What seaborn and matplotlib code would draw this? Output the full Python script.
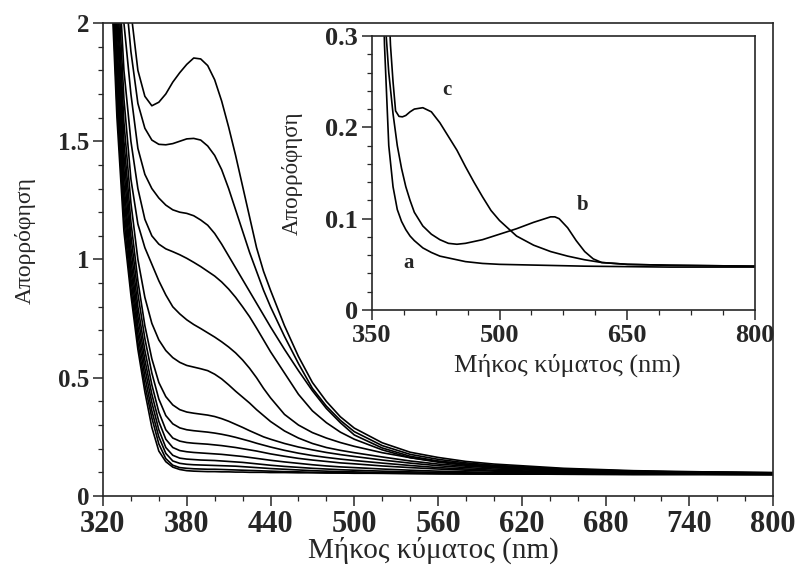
import numpy as np
import pandas as pd
import seaborn as sns
import matplotlib
matplotlib.use("Agg")
import matplotlib.pyplot as plt
from matplotlib.ticker import AutoMinorLocator

# wavelengths (nm) for the main family of spectra
wl = [320, 325, 330, 335, 340, 345, 350, 355, 360, 365, 370, 375, 380, 385, 390, 395, 400,
      405, 410, 415, 420, 425, 430, 435, 440, 450, 460, 470, 480, 490, 500, 520, 540, 560,
      580, 600, 650, 700, 750, 800]

# absorbance, top curve first
abs_1 = [4.6, 3.5, 2.8, 2.4, 2.05, 1.80, 1.69, 1.65, 1.665, 1.70, 1.75, 1.79, 1.825, 1.852, 1.848,
         1.82, 1.76, 1.67, 1.56, 1.44, 1.31, 1.18, 1.05, 0.95, 0.87, 0.72, 0.59, 0.48, 0.40, 0.335,
         0.287, 0.225, 0.185, 0.163, 0.146, 0.135, 0.117, 0.107, 0.102, 0.099]
abs_2 = [4.5, 3.4, 2.6, 2.2, 1.88, 1.66, 1.555, 1.505, 1.487, 1.485, 1.49, 1.50, 1.51, 1.512, 1.505,
         1.48, 1.44, 1.38, 1.30, 1.21, 1.12, 1.03, 0.95, 0.87, 0.80, 0.675, 0.56, 0.455, 0.38, 0.32,
         0.272, 0.213, 0.176, 0.155, 0.14, 0.13, 0.114, 0.105, 0.10, 0.098]
abs_3 = [4.4, 3.3, 2.45, 2.0, 1.7, 1.47, 1.36, 1.30, 1.26, 1.23, 1.21, 1.20, 1.195, 1.185, 1.167,
         1.145, 1.11, 1.065, 1.015, 0.965, 0.915, 0.865, 0.815, 0.765, 0.715, 0.62, 0.53, 0.445,
         0.37, 0.31, 0.258, 0.203, 0.168, 0.148, 0.135, 0.126, 0.112, 0.104, 0.10, 0.098]
abs_4 = [4.3, 3.2, 2.35, 1.8, 1.5, 1.3, 1.17, 1.10, 1.065, 1.045, 1.033, 1.02, 1.005, 0.988, 0.97,
         0.95, 0.93, 0.905, 0.875, 0.84, 0.80, 0.758, 0.71, 0.66, 0.61, 0.52, 0.43, 0.36, 0.31,
         0.27, 0.24, 0.195, 0.162, 0.143, 0.13, 0.122, 0.11, 0.103, 0.099, 0.097]
abs_5 = [4.2, 3.1, 2.25, 1.68, 1.34, 1.15, 1.05, 0.98, 0.91, 0.85, 0.80, 0.77, 0.745, 0.725, 0.708,
         0.69, 0.672, 0.652, 0.63, 0.605, 0.575, 0.54, 0.50, 0.455, 0.415, 0.345, 0.30, 0.268,
         0.245, 0.226, 0.21, 0.183, 0.162, 0.146, 0.134, 0.125, 0.11, 0.103, 0.10, 0.097]
abs_6 = [4.1, 3.0, 2.16, 1.58, 1.24, 1.0, 0.84, 0.73, 0.66, 0.615, 0.585, 0.565, 0.552, 0.545, 0.538,
         0.53, 0.515, 0.495, 0.47, 0.443, 0.418, 0.393, 0.365, 0.34, 0.315, 0.275, 0.245, 0.222,
         0.205, 0.193, 0.183, 0.165, 0.148, 0.135, 0.126, 0.119, 0.107, 0.102, 0.099, 0.097]
abs_7 = [4.0, 2.9, 2.08, 1.5, 1.16, 0.91, 0.72, 0.58, 0.48, 0.42, 0.385, 0.365, 0.355, 0.35, 0.346,
         0.342, 0.336, 0.327, 0.316, 0.303, 0.29, 0.276, 0.263, 0.25, 0.24, 0.222, 0.207, 0.195,
         0.184, 0.175, 0.167, 0.152, 0.139, 0.128, 0.12, 0.114, 0.105, 0.10, 0.098, 0.096]
abs_8 = [3.9, 2.8, 2.0, 1.44, 1.10, 0.855, 0.665, 0.52, 0.41, 0.34, 0.305, 0.288, 0.28, 0.276, 0.273,
         0.27, 0.266, 0.261, 0.255, 0.248, 0.24, 0.232, 0.223, 0.215, 0.207, 0.193, 0.181, 0.171,
         0.163, 0.156, 0.15, 0.139, 0.129, 0.12, 0.114, 0.109, 0.102, 0.098, 0.096, 0.095]
abs_9 = [3.8, 2.7, 1.92, 1.38, 1.05, 0.80, 0.615, 0.47, 0.355, 0.28, 0.245, 0.232, 0.226, 0.223, 0.221,
         0.219, 0.216, 0.213, 0.209, 0.205, 0.20, 0.195, 0.19, 0.184, 0.178, 0.168, 0.159, 0.152,
         0.146, 0.14, 0.136, 0.127, 0.12, 0.114, 0.109, 0.105, 0.10, 0.097, 0.095, 0.094]
abs_10 = [3.7, 2.62, 1.85, 1.32, 1.0, 0.76, 0.575, 0.43, 0.315, 0.24, 0.205, 0.192, 0.187, 0.184, 0.182,
          0.18, 0.178, 0.176, 0.173, 0.17, 0.167, 0.163, 0.159, 0.155, 0.151, 0.144, 0.138, 0.132,
          0.127, 0.123, 0.12, 0.114, 0.109, 0.105, 0.102, 0.10, 0.097, 0.095, 0.094, 0.093]
abs_11 = [3.6, 2.54, 1.78, 1.27, 0.96, 0.72, 0.54, 0.395, 0.28, 0.205, 0.172, 0.16, 0.156, 0.154, 0.152,
          0.151, 0.15, 0.148, 0.146, 0.144, 0.142, 0.139, 0.136, 0.133, 0.13, 0.125, 0.121, 0.117,
          0.114, 0.111, 0.109, 0.105, 0.102, 0.10, 0.098, 0.097, 0.095, 0.094, 0.093, 0.092]
abs_12 = [3.5, 2.46, 1.72, 1.22, 0.92, 0.685, 0.505, 0.36, 0.25, 0.18, 0.148, 0.138, 0.134, 0.132, 0.131,
          0.13, 0.129, 0.128, 0.127, 0.126, 0.124, 0.122, 0.12, 0.118, 0.116, 0.113, 0.11, 0.107,
          0.105, 0.103, 0.102, 0.099, 0.097, 0.096, 0.095, 0.094, 0.093, 0.092, 0.092, 0.091]
abs_13 = [3.4, 2.38, 1.66, 1.17, 0.88, 0.65, 0.47, 0.33, 0.22, 0.158, 0.13, 0.12, 0.117, 0.115, 0.114,
          0.113, 0.113, 0.112, 0.111, 0.11, 0.109, 0.108, 0.107, 0.106, 0.105, 0.103, 0.102, 0.10,
          0.099, 0.098, 0.097, 0.096, 0.095, 0.094, 0.093, 0.093, 0.092, 0.091, 0.091, 0.09]
abs_14 = [3.2, 2.3, 1.6, 1.12, 0.85, 0.62, 0.44, 0.29, 0.19, 0.145, 0.122, 0.112, 0.107, 0.105, 0.104,
          0.103, 0.103, 0.102, 0.102, 0.101, 0.101, 0.10, 0.10, 0.10, 0.099, 0.099, 0.098, 0.098,
          0.097, 0.097, 0.096, 0.096, 0.095, 0.094, 0.094, 0.093, 0.092, 0.091, 0.091, 0.09]

main_curves = [abs_1, abs_2, abs_3, abs_4, abs_5, abs_6, abs_7, abs_8, abs_9,
               abs_10, abs_11, abs_12, abs_13, abs_14]

# inset spectra a, b, c
wl_a = [362, 365, 370, 375, 380, 385, 390, 395, 400, 410, 420, 430, 440, 450, 460, 480, 500, 550, 600, 700, 800]
abs_a = [0.4, 0.29, 0.18, 0.135, 0.11, 0.097, 0.088, 0.081, 0.076, 0.068, 0.063, 0.059, 0.057,
         0.055, 0.053, 0.051, 0.05, 0.049, 0.048, 0.047, 0.047]
wl_b = [364, 367, 370, 375, 380, 385, 390, 395, 400, 410, 420, 430, 440, 450, 460, 470, 480, 490, 500,
        520, 540, 550, 560, 565, 570, 580, 590, 600, 610, 620, 650, 700, 800]
abs_b = [0.36, 0.3, 0.26, 0.215, 0.18, 0.155, 0.135, 0.12, 0.107, 0.092, 0.083, 0.077, 0.073, 0.072,
         0.073, 0.075, 0.077, 0.08, 0.083, 0.089, 0.096, 0.099, 0.102, 0.102, 0.10, 0.09, 0.076,
         0.064, 0.056, 0.052, 0.05, 0.049, 0.048]
wl_c = [369, 372, 375, 378, 382, 386, 390, 395, 400, 410, 420, 430, 440, 450, 460, 470, 480, 490,
        500, 520, 540, 560, 580, 600, 620, 650, 700, 800]
abs_c = [0.36, 0.29, 0.25, 0.218, 0.212, 0.2115, 0.213, 0.217, 0.22, 0.2215, 0.217, 0.205, 0.19,
         0.175, 0.157, 0.14, 0.124, 0.109, 0.098, 0.081, 0.071, 0.064, 0.059, 0.055, 0.052, 0.05,
         0.049, 0.048]

main_df = pd.concat([pd.DataFrame({"wl": wl, "A": a, "curve": i})
                     for i, a in enumerate(main_curves)])
inset_df = pd.concat([pd.DataFrame({"wl": w, "A": a, "curve": n})
                      for w, a, n in [(wl_a, abs_a, "a"), (wl_b, abs_b, "b"), (wl_c, abs_c, "c")]])

sns.set_style("ticks")
plt.rcParams["font.family"] = ["Liberation Serif", "DejaVu Serif"]
plt.rcParams["axes.linewidth"] = 1.2

fig = plt.figure(figsize=(8.02, 5.68), dpi=100)
ax = fig.add_axes([0.1284, 0.1268, 0.8356, 0.8327])

sns.lineplot(data=main_df, x="wl", y="A", units="curve", estimator=None, sort=False,
             color="black", lw=1.2, ax=ax)
ax.set_xlim(320, 800)
ax.set_ylim(0, 2)
ax.set_xticks(range(320, 801, 60))
ax.xaxis.set_minor_locator(AutoMinorLocator(3))
ax.set_yticks([0, 0.5, 1, 1.5, 2], ["0", "0.5", "1", "1.5", "2"])
ax.yaxis.set_minor_locator(AutoMinorLocator(5))
ax.tick_params(which="major", length=7, width=1.1, direction="out", pad=3)
ax.tick_params(which="minor", length=3.5, width=0.9, direction="out")
for lab in ax.get_xticklabels():
    lab.set_fontsize(22)
    lab.set_fontweight("bold")
for lab in ax.get_yticklabels():
    lab.set_fontsize(18)
    lab.set_fontweight("bold")
ax.set_xlabel("Μήκος κύματος (nm)", fontsize=21)
ax.set_ylabel("Απορρόφηση", fontsize=17)
ax.xaxis.set_label_coords(0.493, -0.085)
ax.yaxis.set_label_coords(-0.1, 0.54)
for s in ax.spines.values():
    s.set_visible(True)

# inset
axi = fig.add_axes([0.4635, 0.4542, 0.478, 0.4824])
axi.set_facecolor("white")
sns.lineplot(data=inset_df, x="wl", y="A", units="curve", estimator=None, sort=False,
             color="black", lw=1.2, ax=axi)
axi.set_xlim(350, 800)
axi.set_ylim(0, 0.3)
axi.set_xticks([350, 500, 650, 800])
axi.xaxis.set_minor_locator(AutoMinorLocator(4))
axi.set_yticks([0, 0.1, 0.2, 0.3], ["0", "0.1", "0.2", "0.3"])
axi.yaxis.set_minor_locator(AutoMinorLocator(5))
axi.tick_params(which="major", length=7, width=1.1, direction="out", pad=3)
axi.tick_params(which="minor", length=3.5, width=0.9, direction="out")
for lab in axi.get_xticklabels() + axi.get_yticklabels():
    lab.set_fontsize(19)
    lab.set_fontweight("bold")
axi.set_xlabel("Μήκος κύματος (nm)", fontsize=19)
axi.set_ylabel("Απορρόφηση", fontsize=16.5)
axi.xaxis.set_label_coords(0.51, -0.16)
axi.yaxis.set_label_coords(-0.18, 0.5)
for s in axi.spines.values():
    s.set_visible(True)
for n, x, y in [("a", 393, 0.051), ("b", 598, 0.115), ("c", 438, 0.241)]:
    axi.text(x, y, n, fontsize=15, fontweight="bold", ha="center", va="center")

fig.savefig("out.png", dpi=100)
